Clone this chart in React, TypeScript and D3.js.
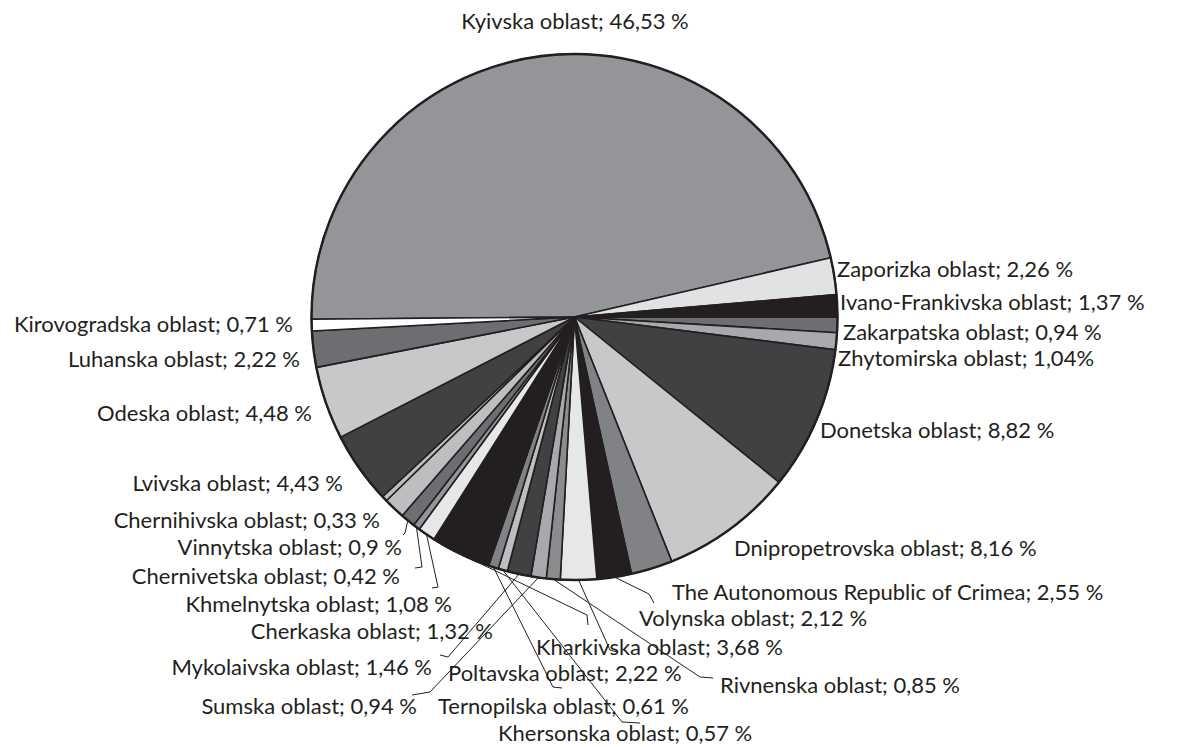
import React from 'react';
import * as d3 from 'd3';

// Oblast shares (%), listed clockwise from the Kyivska slice
const regions = [
  'Kyivska oblast', 'Zaporizka oblast', 'Ivano-Frankivska oblast', 'Zakarpatska oblast',
  'Zhytomirska oblast', 'Donetska oblast', 'Dnipropetrovska oblast',
  'The Autonomous Republic of Crimea', 'Volynska oblast', 'Poltavska oblast',
  'Rivnenska oblast', 'Sumska oblast', 'Mykolaivska oblast', 'Khersonska oblast',
  'Ternopilska oblast', 'Kharkivska oblast', 'Khmelnytska oblast', 'Chernivetska oblast',
  'Vinnytska oblast', 'Cherkaska oblast', 'Chernihivska oblast', 'Lvivska oblast',
  'Odeska oblast', 'Luhanska oblast', 'Kirovogradska oblast',
];

const shares = [
  46.53, 2.26, 1.37, 0.94,
  1.04, 8.82, 8.16,
  2.55, 2.12, 2.22,
  0.85, 0.94, 1.46, 0.57,
  0.61, 3.68, 1.08, 0.42,
  0.9, 1.32, 0.33, 4.43,
  4.48, 2.22, 0.71,
];

const fills = [
  '#939598', '#e1e2e3', '#231f20', '#6d6e71',
  '#a7a9ac', '#414042', '#c7c8ca',
  '#808285', '#231f20', '#e6e7e8',
  '#8a8c8e', '#a7a9ac', '#414042', '#bcbec0',
  '#808285', '#231f20', '#e6e7e8', '#939598',
  '#6d6e71', '#bcbec0', '#bcbec0', '#414042',
  '#c7c8ca', '#6d6e71', '#ffffff',
];

// labels printed without a space before the percent sign
const tightPercent = ['Zhytomirska oblast'];

type LabelPos = {
  x: number;
  y: number;
  anchor: 'start' | 'end' | 'middle';
  leader?: [number, number][];
};

// label placement; leader points run from the label side toward the pie
const labelLayout: Record<string, LabelPos> = {
  'Kyivska oblast': { x: 575, y: 21, anchor: 'middle' },
  'Zaporizka oblast': { x: 837, y: 269, anchor: 'start' },
  'Ivano-Frankivska oblast': { x: 840, y: 302, anchor: 'start' },
  'Zakarpatska oblast': { x: 843, y: 332, anchor: 'start' },
  'Zhytomirska oblast': { x: 838, y: 358, anchor: 'start' },
  'Donetska oblast': { x: 820, y: 430, anchor: 'start' },
  'Dnipropetrovska oblast': { x: 734, y: 548, anchor: 'start' },
  'The Autonomous Republic of Crimea': { x: 672, y: 592, anchor: 'start' },
  'Volynska oblast': { x: 639, y: 618, anchor: 'start', leader: [[654, 603], [649, 594]] },
  'Kharkivska oblast': { x: 536, y: 647, anchor: 'start', leader: [[588, 625], [587, 615]] },
  'Poltavska oblast': { x: 448, y: 673, anchor: 'start', leader: [[617, 652], [610, 650]] },
  'Rivnenska oblast': { x: 720, y: 685, anchor: 'start', leader: [[713, 678], [700, 677]] },
  'Ternopilska oblast': { x: 438, y: 706, anchor: 'start', leader: [[562, 688], [553, 687]] },
  'Khersonska oblast': { x: 498, y: 733, anchor: 'start', leader: [[640, 723], [622, 722]] },
  'Kirovogradska oblast': { x: 293, y: 324, anchor: 'end' },
  'Luhanska oblast': { x: 300, y: 359, anchor: 'end' },
  'Odeska oblast': { x: 312, y: 413, anchor: 'end' },
  'Lvivska oblast': { x: 343, y: 483, anchor: 'end' },
  'Chernihivska oblast': { x: 380, y: 520, anchor: 'end' },
  'Vinnytska oblast': { x: 402, y: 547, anchor: 'end', leader: [[403, 535], [405, 533]] },
  'Chernivetska oblast': { x: 400, y: 576, anchor: 'end', leader: [[415, 568], [422, 567]] },
  'Khmelnytska oblast': { x: 452, y: 604, anchor: 'end', leader: [[432, 588], [438, 587]] },
  'Cherkaska oblast': { x: 493, y: 631, anchor: 'end' },
  'Mykolaivska oblast': { x: 432, y: 667, anchor: 'end', leader: [[440, 655], [448, 657]] },
  'Sumska oblast': { x: 417, y: 706, anchor: 'end', leader: [[412, 695], [430, 692]] },
};

const cx = 574.5;
const cy = 317;
const R = 263;
const startDeg = -90.5;
const ink = '#231f20';

const fmt = (v: number) => String(v).replace('.', ',');

export default function App() {
  const toRad = (d: number) => (d * Math.PI) / 180;
  const pie = d3
    .pie<number>()
    .sort(null)
    .value((d) => d)
    .startAngle(toRad(startDeg))
    .endAngle(toRad(startDeg + 360));
  const slices = pie(shares);
  const arcGen = d3.arc<d3.PieArcDatum<number>>().innerRadius(0).outerRadius(R);

  return (
    <svg
      width={1177}
      height={747}
      style={{ position: 'absolute', left: 0, top: 0, background: '#ffffff' }}
      fontFamily="Lato, 'Noto Sans', sans-serif"
    >
      <g transform={`translate(${cx},${cy})`}>
        {slices.map((s, i) => (
          <path
            key={regions[i]}
            d={arcGen(s) || ''}
            fill={fills[i]}
            stroke={ink}
            strokeWidth={1.6}
            strokeLinejoin="round"
          />
        ))}
        <circle r={R} fill="none" stroke={ink} strokeWidth={2.4} />
      </g>

      {slices.map((s, i) => {
        const name = regions[i];
        const pos = labelLayout[name];
        if (!pos || !pos.leader) return null;
        const mid = (s.startAngle + s.endAngle) / 2;
        const ax = cx + R * Math.sin(mid);
        const ay = cy - R * Math.cos(mid);
        const pts: [number, number][] = [...pos.leader, [ax, ay]];
        return (
          <polyline
            key={`ld-${name}`}
            points={pts.map((p) => p.join(',')).join(' ')}
            fill="none"
            stroke={ink}
            strokeWidth={1}
          />
        );
      })}

      {slices.map((s, i) => {
        const name = regions[i];
        const pos = labelLayout[name];
        const sep = tightPercent.includes(name) ? '' : ' ';
        return (
          <text
            key={`lb-${name}`}
            x={pos.x}
            y={pos.y}
            dy="0.36em"
            textAnchor={pos.anchor}
            fontSize={22}
            fill={ink}
          >
            {`${name}; ${fmt(s.value)}${sep}%`}
          </text>
        );
      })}
    </svg>
  );
}
